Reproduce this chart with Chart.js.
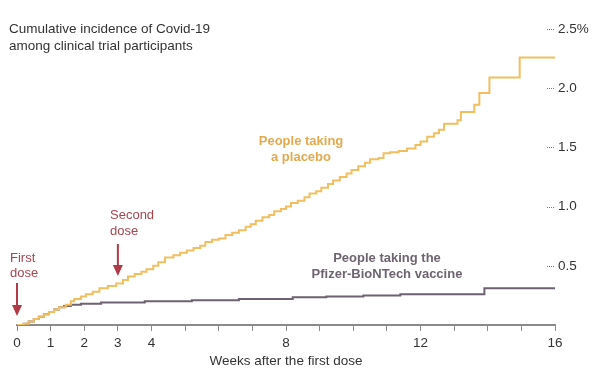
<!DOCTYPE html>
<html><head><meta charset="utf-8">
<script src="https://cdn.jsdelivr.net/npm/chart.js@4/dist/chart.umd.min.js"></script>
<style>html,body{margin:0;padding:0;background:#fff}#wrap{width:600px;height:379px;position:relative}</style>
</head><body><div id="wrap"><canvas id="c" width="600" height="379"></canvas></div>
<script>
// Weeks after first dose at which cumulative incidence steps up, and the new value (%)
const placeboWeeks = [0,0.2,0.35,0.5,0.65,0.8,0.95,1.1,1.25,1.45,1.6,1.7,1.9,2.05,2.25,2.45,2.7,2.95,3.15,3.3,3.5,3.7,3.85,4.05,4.2,4.4,4.65,4.85,5.05,5.25,5.45,5.6,5.8,6.0,6.2,6.4,6.6,6.8,6.95,7.1,7.3,7.5,7.65,7.85,8.0,8.15,8.35,8.55,8.7,8.9,9.05,9.25,9.4,9.6,9.8,9.95,10.15,10.35,10.5,10.75,10.9,11.1,11.35,11.6,11.85,12.0,12.2,12.4,12.55,12.7,13.1,13.2,13.6,13.75,14.05,14.95,16];
const placeboPct   = [0,0.01,0.03,0.05,0.07,0.09,0.11,0.13,0.15,0.17,0.2,0.22,0.24,0.26,0.28,0.31,0.33,0.35,0.38,0.41,0.43,0.45,0.47,0.5,0.53,0.57,0.59,0.61,0.63,0.65,0.67,0.7,0.72,0.73,0.76,0.78,0.8,0.83,0.85,0.88,0.91,0.93,0.96,0.98,1.0,1.03,1.05,1.08,1.11,1.13,1.16,1.19,1.22,1.25,1.28,1.31,1.34,1.37,1.4,1.41,1.45,1.46,1.47,1.49,1.52,1.55,1.59,1.62,1.65,1.7,1.73,1.8,1.86,1.96,2.09,2.26,2.26];
const vaccineWeeks = [0,0.2,0.35,0.5,0.65,0.8,0.95,1.1,1.25,1.4,1.6,1.9,2.5,3.8,5.2,6.6,8.2,9.2,10.3,11.4,13.9,16];
const vaccinePct   = [0,0.01,0.03,0.05,0.07,0.09,0.11,0.13,0.15,0.16,0.17,0.18,0.19,0.2,0.21,0.22,0.235,0.24,0.25,0.26,0.31,0.31];
const xTickLabels = [0,1,2,3,4,8,12,16];
const yTickValues = [0.5,1.0,1.5,2.0,2.5];

const FONT = '"Liberation Sans", Arial, sans-serif';
const toPts = (xs, ys) => xs.map((x, i) => ({x: x, y: ys[i]}));

function arrow(ctx, x, yTop, yTip, color) {
  ctx.save();
  ctx.strokeStyle = color; ctx.fillStyle = color; ctx.lineWidth = 2;
  ctx.beginPath(); ctx.moveTo(x, yTop); ctx.lineTo(x, yTip - 9); ctx.stroke();
  ctx.beginPath(); ctx.moveTo(x - 5, yTip - 11); ctx.lineTo(x + 5, yTip - 11); ctx.lineTo(x, yTip); ctx.closePath(); ctx.fill();
  ctx.restore();
}

const annotations = {
  id: 'annotations',
  afterDraw(chart) {
    const ctx = chart.ctx, xs = chart.scales.x, ys = chart.scales.y;
    ctx.save();
    // y-axis dotted ticks
    ctx.strokeStyle = '#777'; ctx.lineWidth = 1; ctx.setLineDash([1, 1]);
    yTickValues.forEach(v => {
      const y = Math.round(ys.getPixelForValue(v)) + 0.5;
      ctx.beginPath(); ctx.moveTo(xs.right - 8, y); ctx.lineTo(xs.right - 1, y); ctx.stroke();
    });
    ctx.setLineDash([]);
    // title
    ctx.fillStyle = '#333'; ctx.font = '13.5px ' + FONT; ctx.textAlign = 'left'; ctx.textBaseline = 'alphabetic';
    ctx.fillText('Cumulative incidence of Covid-19', 9, 33);
    ctx.fillText('among clinical trial participants', 9, 50);
    // series labels
    ctx.font = 'bold 13px ' + FONT; ctx.textAlign = 'center';
    ctx.fillStyle = '#e3a94f';
    ctx.fillText('People taking', 301, 145);
    ctx.fillText('a placebo', 301, 161);
    ctx.fillStyle = '#6d6470';
    ctx.fillText('People taking the', 387, 262);
    ctx.fillText('Pfizer-BioNTech vaccine', 387, 278);
    // dose annotations
    ctx.font = '13px ' + FONT; ctx.textAlign = 'left'; ctx.fillStyle = '#a8454f';
    ctx.fillText('First', 10, 262);
    ctx.fillText('dose', 10, 277);
    ctx.fillText('Second', 110, 219);
    ctx.fillText('dose', 110, 235);
    arrow(ctx, xs.getPixelForValue(0), 283, 316, '#b23a48');
    arrow(ctx, xs.getPixelForValue(3), 244, 276, '#b23a48');
    ctx.restore();
  }
};

new Chart(document.getElementById('c'), {
  type: 'line',
  data: {
    datasets: [
      {data: toPts(placeboWeeks, placeboPct), borderColor: '#f1bf5f', borderWidth: 2, stepped: 'before', pointRadius: 0, fill: false},
      {data: toPts(vaccineWeeks, vaccinePct), borderColor: '#6e6272', borderWidth: 2, stepped: 'before', pointRadius: 0, fill: false}
    ]
  },
  options: {
    responsive: false, animation: false, devicePixelRatio: 1,
    layout: {padding: {left: 17, top: 29, right: 0, bottom: 0}},
    plugins: {legend: {display: false}, tooltip: {enabled: false}},
    scales: {
      x: {
        type: 'linear', min: 0, max: 16,
        afterFit: s => { s.height = 54; },
        afterBuildTicks: s => { s.ticks = Array.from({length: 17}, (_, i) => ({value: i})); },
        ticks: {autoSkip: false, maxRotation: 0, padding: 4, color: '#333', font: {family: FONT, size: 13.5},
          callback: v => xTickLabels.includes(v) ? String(v) : ''},
        grid: {drawOnChartArea: false, drawTicks: true, tickLength: 6, color: '#8a8a8a', lineWidth: 1},
        border: {display: true, color: '#8a8a8a', width: 2},
        title: {display: true, text: 'Weeks after the first dose', color: '#333', font: {family: FONT, size: 13.5}, padding: {top: 2, bottom: 10}}
      },
      y: {
        type: 'linear', position: 'right', min: 0, max: 2.5,
        afterFit: s => { s.width = 45; },
        afterBuildTicks: s => { s.ticks = yTickValues.map(v => ({value: v})); },
        ticks: {padding: 3, color: '#333', font: {family: FONT, size: 13.5},
          callback: v => v === 2.5 ? '2.5%' : v.toFixed(1)},
        grid: {display: false, drawTicks: false, tickLength: 0},
        border: {display: false}
      }
    }
  },
  plugins: [annotations]
});
</script>
</body></html>
